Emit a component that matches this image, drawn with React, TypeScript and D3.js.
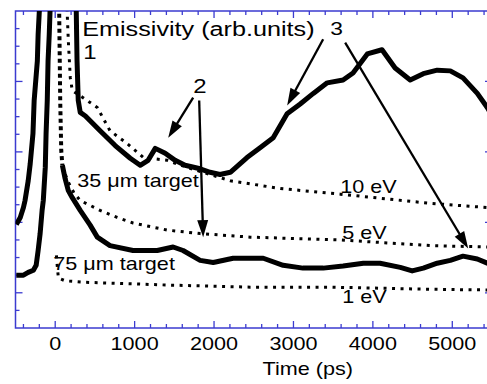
import React, { useEffect } from 'react';
import * as d3 from 'd3';

const W = 487;
const H = 384;

// x axis (time, ps)
const xMajorTicks = [0, 1000, 2000, 3000, 4000, 5000];
const xTickLabels = ['0', '1000', '2000', '3000', '4000', '5000'];

// 35 um target emissivity
const t35 = [-490, -440, -400, -380, -340, -315, -280, -265, -225, -215, -200, -190, 40, 262, 265, 275, 290, 315, 380, 565, 755, 945, 1070, 1170, 1260, 1385, 1510, 1635, 1825, 1950, 2075, 2205, 2415, 2580, 2745, 2920, 3085, 3250, 3425, 3625, 3750, 3930, 4115, 4280, 4470, 4635, 4810, 4975, 5135, 5315, 5440, 5540];
const v35 = [1.47, 1.57, 1.71, 1.81, 2.09, 2.33, 2.76, 3.23, 3.79, 4.17, 4.5, 4.78, 5.8, 4.78, 4.5, 3.79, 3.23, 3.06, 3.01, 2.8, 2.59, 2.41, 2.31, 2.38, 2.55, 2.48, 2.38, 2.31, 2.26, 2.21, 2.18, 2.21, 2.42, 2.56, 2.7, 3.04, 3.18, 3.33, 3.48, 3.52, 3.62, 3.89, 3.95, 3.69, 3.52, 3.61, 3.66, 3.65, 3.55, 3.33, 3.13, 2.94];

// 75 um target emissivity
const t75 = [-490, -400, -340, -275, -240, -215, -190, -165, -150, -125, -115, -100, -90, -75, -65, -50, 0, 38, 50, 63, 76, 90, 125, 165, 215, 315, 440, 530, 690, 980, 1285, 1485, 1610, 1825, 1990, 2240, 2455, 2620, 2870, 3120, 3375, 3625, 3880, 4090, 4345, 4495, 4635, 4810, 4975, 5135, 5315, 5440, 5540];
const v75 = [0.75, 0.75, 0.79, 0.82, 0.89, 1.1, 1.34, 1.67, 1.81, 2.28, 2.76, 3.23, 3.79, 4.17, 4.5, 4.78, 5.8, 4.78, 4.5, 3.23, 2.52, 2.31, 2.12, 1.95, 1.85, 1.67, 1.46, 1.29, 1.17, 1.1, 1.1, 1.15, 1.1, 0.96, 0.93, 0.99, 0.99, 0.99, 0.89, 0.85, 0.85, 0.88, 0.92, 0.92, 0.86, 0.81, 0.85, 0.92, 0.96, 1.02, 0.98, 0.92, 0.88];
const fall75 = [38, 90]; // steep falling part drawn dotted

// model curves (dotted)
const t10 = [145, 150, 165, 190, 215, 350, 530, 690, 905, 1110, 1410, 1660, 2205, 2835, 3590, 4720, 5440, 5540];
const v10 = [4.78, 4.5, 4.08, 3.55, 3.37, 3.27, 3.13, 2.8, 2.62, 2.42, 2.38, 2.28, 2.09, 1.98, 1.9, 1.77, 1.71, 1.7];
const t5 = [90, 165, 240, 315, 440, 565, 780, 980, 1410, 1825, 2455, 3590, 4720, 5440, 5540];
const v5 = [2.29, 2.07, 1.91, 1.81, 1.74, 1.67, 1.57, 1.49, 1.39, 1.34, 1.29, 1.25, 1.17, 1.15, 1.13];
const t1 = [15, 25, 40, 125, 350, 1410, 2455, 3460, 4720, 5440, 5540];
const v1 = [1.03, 0.89, 0.71, 0.67, 0.65, 0.61, 0.58, 0.58, 0.55, 0.54, 0.54];

// annotations
const labelTexts = ['Emissivity (arb.units)', '1', '2', '3', '35 \u03bcm target', '75 \u03bcm target', '10 eV', '5 eV', '1 eV'];
const labelT = [340, 352, 1737, 3462, 277, -25, 3588, 3613, 3613];
const labelV = [4.146, 3.82, 3.34, 4.16, 2.0, 0.82, 1.92, 1.27, 0.35];
const labelSize = [21, 20, 20, 19, 18, 18, 18, 18, 18];

const arrowFromT = [1737, 1813, 3374, 3651];
const arrowFromV = [3.27, 3.23, 4.1, 4.05];
const arrowToT = [1423, 1863, 2921, 5200];
const arrowToV = [2.7, 1.29, 3.16, 1.13];

const FONT = '"Liberation Sans", Arial, Helvetica, sans-serif';
const AXIS = '#3b3bd0';
const SX = 1.2;

type P = { t: number; v: number };
const zip = (ts: number[], vs: number[]): P[] => ts.map((t, i) => ({ t, v: vs[i] }));

export default function App() {
  useEffect(() => {
    document.body.style.margin = '0';
  }, []);

  const x = d3.scaleLinear().domain([-500, 5500]).range([15.5, 492]);
  const y = d3.scaleLinear().domain([0, 4.5]).range([328, 11]);
  const line = d3.line<P>().x((d) => x(d.t)).y((d) => y(d.v));

  const d35 = zip(t35, v35);
  const d75 = zip(t75, v75);
  const line75 = d3.line<P>().x((d) => x(d.t)).y((d) => y(d.v)).defined((d) => d.t <= fall75[0] || d.t >= fall75[1]);
  const d75fall = d75.filter((d) => d.t >= fall75[0] && d.t <= fall75[1]);

  const xMinor = d3.range(-400, 5500, 200).filter((t) => !xMajorTicks.includes(t));
  const yAll = d3.range(0.25, 4.5, 0.25);
  const isMajorY = (v: number) => Math.abs(((v - 0.5) % 1 + 1) % 1) < 1e-6;

  const x0 = x(-500), x1 = x(5500), yTop = y(4.5), yBot = y(0);

  const arrows = arrowFromT.map((_, i) => {
    const fx = x(arrowFromT[i]), fy = y(arrowFromV[i]);
    const tx = x(arrowToT[i]), ty = y(arrowToV[i]);
    const dx = tx - fx, dy = ty - fy;
    const len = Math.hypot(dx, dy);
    const ux = dx / len, uy = dy / len;
    const L = 17, hw = 5.5;
    const bx = tx - ux * L, by = ty - uy * L;
    const head = `${tx},${ty} ${bx - uy * hw},${by + ux * hw} ${bx + uy * hw},${by - ux * hw}`;
    return { fx, fy, bx: tx - ux * (L - 2), by: ty - uy * (L - 2), head };
  });

  return (
    <svg width={W} height={H} style={{ position: 'absolute', left: 0, top: 0, background: '#fff' }} fontFamily={FONT}>
      <defs>
        <clipPath id="plot">
          <rect x={x0} y={yTop} width={x1 - x0} height={yBot - yTop} />
        </clipPath>
      </defs>
      <rect x={0} y={0} width={W} height={H} fill="#fff" />

      {/* axes frame */}
      <rect x={x0} y={yTop} width={x1 - x0} height={yBot - yTop} fill="none" stroke={AXIS} strokeWidth={1.5} />
      {xMajorTicks.concat(xMinor).map((t) => {
        const L = xMajorTicks.includes(t) ? 7 : 4;
        return (
          <g key={'xt' + t}>
            <line x1={x(t)} x2={x(t)} y1={yBot} y2={yBot - L} stroke={AXIS} strokeWidth={1.3} />
            <line x1={x(t)} x2={x(t)} y1={yTop} y2={yTop + L} stroke={AXIS} strokeWidth={1.3} />
          </g>
        );
      })}
      {yAll.map((v) => {
        const L = isMajorY(v) ? 7 : 4;
        return (
          <g key={'yt' + v}>
            <line x1={x0} x2={x0 + L} y1={y(v)} y2={y(v)} stroke={AXIS} strokeWidth={1.3} />
            <line x1={x1} x2={x1 - L} y1={y(v)} y2={y(v)} stroke={AXIS} strokeWidth={1.3} />
          </g>
        );
      })}
      {xMajorTicks.map((t, i) => (
        <text key={'xl' + t} transform={`translate(${x(t)},350) scale(${SX},1)`} textAnchor="middle" fontSize={18} fill="#000">
          {xTickLabels[i]}
        </text>
      ))}
      <text transform={`translate(${x(2500) + 54},375) scale(${SX},1)`} textAnchor="middle" fontSize={18} fill="#000">
        Time (ps)
      </text>

      {/* curves */}
      <g clipPath="url(#plot)" fill="none">
        <path d={line(zip(t10, v10)) || ''} stroke="#000" strokeWidth={3} strokeDasharray="3 5.5" />
        <path d={line(zip(t5, v5)) || ''} stroke="#000" strokeWidth={3} strokeDasharray="3 5.5" />
        <path d={line(zip(t1, v1)) || ''} stroke="#000" strokeWidth={3} strokeDasharray="3 5.5" />
        <path d={line(d75fall) || ''} stroke="#000" strokeWidth={4} strokeDasharray="4 3.5" />
        <path d={line75(d75) || ''} stroke="#000" strokeWidth={5} strokeLinejoin="round" />
        <path d={line(d35) || ''} stroke="#000" strokeWidth={5} strokeLinejoin="round" />
      </g>

      {/* arrows */}
      {arrows.map((a, i) => (
        <g key={'ar' + i}>
          <line x1={a.fx} y1={a.fy} x2={a.bx} y2={a.by} stroke="#000" strokeWidth={2.3} />
          <polygon points={a.head} fill="#000" />
        </g>
      ))}

      {/* labels */}
      {labelTexts.map((s, i) => (
        <text key={'lb' + i} transform={`translate(${x(labelT[i])},${y(labelV[i])}) scale(${SX},1)`} fontSize={labelSize[i]} fill="#000">
          {s}
        </text>
      ))}
    </svg>
  );
}
